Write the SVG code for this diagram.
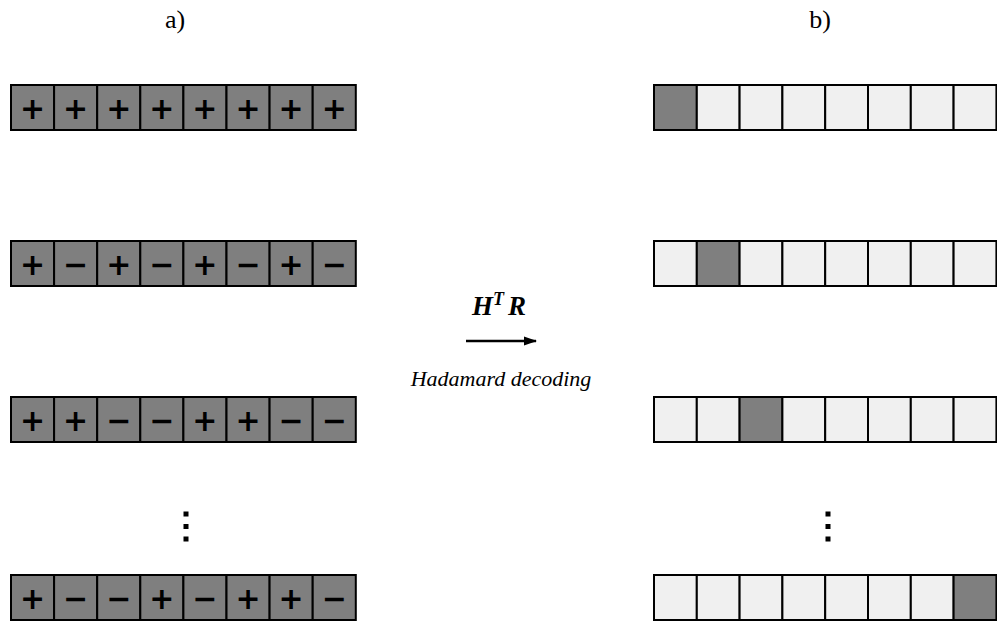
<svg xmlns="http://www.w3.org/2000/svg" width="997" height="621" viewBox="0 0 997 621">
<style>
.d{fill:#7f7f7f;stroke:#000;stroke-width:2}
.l{fill:#f0f0f0;stroke:#000;stroke-width:2}
.s{font-family:"DejaVu Sans",sans-serif;font-size:30px;font-weight:bold;text-anchor:middle;fill:#000}
.lab{font-family:"Liberation Serif",serif;font-size:26px;text-anchor:middle;fill:#000}
.it{font-family:"Liberation Serif",serif;font-size:22px;font-style:italic;text-anchor:middle;fill:#000}
.m{font-family:"Liberation Serif",serif;font-size:27px;font-style:italic;font-weight:bold;fill:#000}
</style>
<defs>
<marker id="ah" markerWidth="13" markerHeight="10" refX="12" refY="5" orient="auto" markerUnits="userSpaceOnUse"><path d="M0,0.5 L13,5 L0,9.5 z" fill="#000"/></marker>
</defs>
<text class="lab" x="175" y="28">a)</text>
<text class="lab" x="820" y="28">b)</text>
<g id="leftRow1" transform="translate(11,85)">
<rect class="d" x="0" y="0" width="43.1" height="45"/><rect class="d" x="43.1" y="0" width="43.1" height="45"/><rect class="d" x="86.2" y="0" width="43.1" height="45"/><rect class="d" x="129.3" y="0" width="43.1" height="45"/><rect class="d" x="172.4" y="0" width="43.1" height="45"/><rect class="d" x="215.5" y="0" width="43.1" height="45"/><rect class="d" x="258.6" y="0" width="43.1" height="45"/><rect class="d" x="301.7" y="0" width="43.1" height="45"/>
<text class="s" x="21.5" y="34">+</text><text class="s" x="64.6" y="34">+</text><text class="s" x="107.7" y="34">+</text><text class="s" x="150.8" y="34">+</text><text class="s" x="193.9" y="34">+</text><text class="s" x="237" y="34">+</text><text class="s" x="280.1" y="34">+</text><text class="s" x="323.2" y="34">+</text>
</g>
<g id="leftRow2" transform="translate(11,241)">
<rect class="d" x="0" y="0" width="43.1" height="45"/><rect class="d" x="43.1" y="0" width="43.1" height="45"/><rect class="d" x="86.2" y="0" width="43.1" height="45"/><rect class="d" x="129.3" y="0" width="43.1" height="45"/><rect class="d" x="172.4" y="0" width="43.1" height="45"/><rect class="d" x="215.5" y="0" width="43.1" height="45"/><rect class="d" x="258.6" y="0" width="43.1" height="45"/><rect class="d" x="301.7" y="0" width="43.1" height="45"/>
<text class="s" x="21.5" y="34">+</text><text class="s" x="64.6" y="34">−</text><text class="s" x="107.7" y="34">+</text><text class="s" x="150.8" y="34">−</text><text class="s" x="193.9" y="34">+</text><text class="s" x="237" y="34">−</text><text class="s" x="280.1" y="34">+</text><text class="s" x="323.2" y="34">−</text>
</g>
<g id="leftRow3" transform="translate(11,397)">
<rect class="d" x="0" y="0" width="43.1" height="45"/><rect class="d" x="43.1" y="0" width="43.1" height="45"/><rect class="d" x="86.2" y="0" width="43.1" height="45"/><rect class="d" x="129.3" y="0" width="43.1" height="45"/><rect class="d" x="172.4" y="0" width="43.1" height="45"/><rect class="d" x="215.5" y="0" width="43.1" height="45"/><rect class="d" x="258.6" y="0" width="43.1" height="45"/><rect class="d" x="301.7" y="0" width="43.1" height="45"/>
<text class="s" x="21.5" y="34">+</text><text class="s" x="64.6" y="34">+</text><text class="s" x="107.7" y="34">−</text><text class="s" x="150.8" y="34">−</text><text class="s" x="193.9" y="34">+</text><text class="s" x="237" y="34">+</text><text class="s" x="280.1" y="34">−</text><text class="s" x="323.2" y="34">−</text>
</g>
<g id="leftDots">
<rect x="183.5" y="511.5" width="5" height="5" fill="#000"/><rect x="183.5" y="524" width="5" height="5" fill="#000"/><rect x="183.5" y="536.5" width="5" height="5" fill="#000"/>
</g>
<g id="leftRow4" transform="translate(11,575)">
<rect class="d" x="0" y="0" width="43.1" height="45"/><rect class="d" x="43.1" y="0" width="43.1" height="45"/><rect class="d" x="86.2" y="0" width="43.1" height="45"/><rect class="d" x="129.3" y="0" width="43.1" height="45"/><rect class="d" x="172.4" y="0" width="43.1" height="45"/><rect class="d" x="215.5" y="0" width="43.1" height="45"/><rect class="d" x="258.6" y="0" width="43.1" height="45"/><rect class="d" x="301.7" y="0" width="43.1" height="45"/>
<text class="s" x="21.5" y="34">+</text><text class="s" x="64.6" y="34">−</text><text class="s" x="107.7" y="34">−</text><text class="s" x="150.8" y="34">+</text><text class="s" x="193.9" y="34">−</text><text class="s" x="237" y="34">+</text><text class="s" x="280.1" y="34">+</text><text class="s" x="323.2" y="34">−</text>
</g>
<g id="rightRow1" transform="translate(654,85)">
<rect class="d" x="0" y="0" width="42.8" height="45"/><rect class="l" x="42.8" y="0" width="42.8" height="45"/><rect class="l" x="85.6" y="0" width="42.8" height="45"/><rect class="l" x="128.4" y="0" width="42.8" height="45"/><rect class="l" x="171.2" y="0" width="42.8" height="45"/><rect class="l" x="214" y="0" width="42.8" height="45"/><rect class="l" x="256.8" y="0" width="42.8" height="45"/><rect class="l" x="299.6" y="0" width="42.8" height="45"/>
</g>
<g id="rightRow2" transform="translate(654,241)">
<rect class="l" x="0" y="0" width="42.8" height="45"/><rect class="d" x="42.8" y="0" width="42.8" height="45"/><rect class="l" x="85.6" y="0" width="42.8" height="45"/><rect class="l" x="128.4" y="0" width="42.8" height="45"/><rect class="l" x="171.2" y="0" width="42.8" height="45"/><rect class="l" x="214" y="0" width="42.8" height="45"/><rect class="l" x="256.8" y="0" width="42.8" height="45"/><rect class="l" x="299.6" y="0" width="42.8" height="45"/>
</g>
<g id="rightRow3" transform="translate(654,397)">
<rect class="l" x="0" y="0" width="42.8" height="45"/><rect class="l" x="42.8" y="0" width="42.8" height="45"/><rect class="d" x="85.6" y="0" width="42.8" height="45"/><rect class="l" x="128.4" y="0" width="42.8" height="45"/><rect class="l" x="171.2" y="0" width="42.8" height="45"/><rect class="l" x="214" y="0" width="42.8" height="45"/><rect class="l" x="256.8" y="0" width="42.8" height="45"/><rect class="l" x="299.6" y="0" width="42.8" height="45"/>
</g>
<g id="rightDots">
<rect x="825.5" y="511.5" width="5" height="5" fill="#000"/><rect x="825.5" y="524" width="5" height="5" fill="#000"/><rect x="825.5" y="536.5" width="5" height="5" fill="#000"/>
</g>
<g id="rightRow4" transform="translate(654,575)">
<rect class="l" x="0" y="0" width="42.8" height="45"/><rect class="l" x="42.8" y="0" width="42.8" height="45"/><rect class="l" x="85.6" y="0" width="42.8" height="45"/><rect class="l" x="128.4" y="0" width="42.8" height="45"/><rect class="l" x="171.2" y="0" width="42.8" height="45"/><rect class="l" x="214" y="0" width="42.8" height="45"/><rect class="l" x="256.8" y="0" width="42.8" height="45"/><rect class="d" x="299.6" y="0" width="42.8" height="45"/>
</g>
<g id="connectors">
<line x1="466" y1="341" x2="536" y2="341" stroke="#000" stroke-width="2.5" marker-end="url(#ah)"/>
</g>
<g id="label">
<text class="m" x="472" y="315">H<tspan font-size="18" dy="-10">T</tspan><tspan dy="10" dx="4">R</tspan></text>
<text class="it" x="501" y="386">Hadamard decoding</text>
</g>
</svg>
